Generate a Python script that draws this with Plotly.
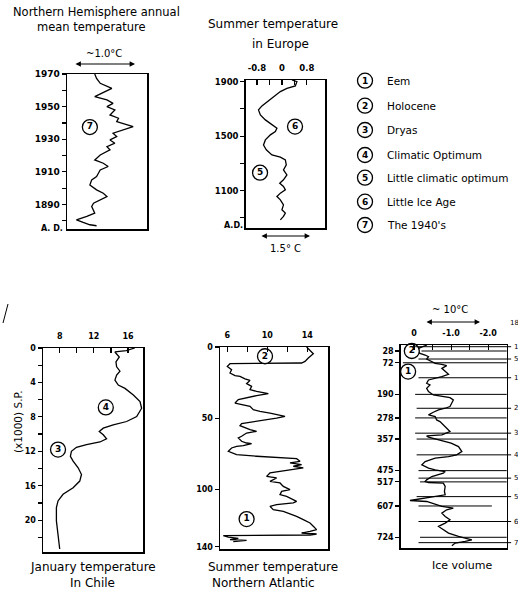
import plotly.graph_objects as go

W, H = 518, 590

# ---------------- data ----------------
# Northern Hemisphere annual mean temperature (anomaly, deg C)
nh_year = [1970, 1967.3, 1964.3, 1961.2, 1956.1, 1954.1, 1952.0, 1950.0, 1948.0, 1944.9,
           1942.9, 1940.8, 1937.8, 1935.7, 1933.7, 1931.6, 1929.6, 1927.6, 1925.5, 1923.5,
           1920.4, 1917.3, 1915.3, 1913.3, 1911.2, 1909.2, 1907.1, 1905.1, 1902.0, 1899.0,
           1896.9, 1894.9, 1892.9, 1890.8, 1888.8, 1884.7, 1882.7, 1880.6, 1879.0, 1877.6, 1877.0]
nh_anom = [-0.16, -0.13, -0.07, 0.12, -0.16, 0.04, 0.14, 0.04, 0.17, 0.09,
           0.23, 0.20, 0.47, 0.31, 0.14, 0.20, 0.09, 0.17, 0.04, 0.09,
           -0.07, -0.16, -0.02, 0.06, -0.07, -0.10, -0.13, -0.21, -0.24, -0.13,
           -0.02, 0.04, -0.07, -0.18, -0.21, -0.16, -0.29, -0.46, -0.35, -0.24, -0.13]

# Summer temperature in Europe (deg C)
eu_year = [1912, 1900, 1868, 1851, 1827, 1790, 1753, 1722, 1692, 1656, 1619, 1582, 1558, 1533,
           1509, 1472, 1435, 1399, 1362, 1345, 1325, 1289, 1252, 1215, 1179, 1154, 1130, 1105,
           1081, 1056, 1032, 995, 959, 934, 910, 885]
eu_temp = [0.32, 0.48, 0.43, 0.16, -0.05, -0.27, -0.48, -0.64, -0.75, -0.69, -0.53, -0.32,
           -0.16, -0.21, -0.37, -0.53, -0.59, -0.50, -0.32, -0.05, 0.11, 0.14, 0.05, 0.16,
           0.05, -0.07, 0.05, 0.11, -0.05, -0.16, -0.05, 0.05, 0.00, 0.11, 0.05, -0.05]

# January temperature in Chile (age in 1000 yr, deg C)
chile_age = [0, 0.3, 0.46, 1.04, 1.62, 2.19, 2.69, 3.15, 3.73, 4.31, 4.69, 5.46, 6.23, 7.0,
             7.96, 8.54, 8.92, 9.31, 9.69, 10.08, 10.54, 10.92, 11.23, 11.54, 12.0, 12.58,
             13.15, 13.92, 14.69, 15.46, 16.23, 17.0, 17.77, 18.54, 20.08, 21.6, 23.35]
chile_temp = [16.8, 15.8, 14.47, 14.98, 14.59, 14.67, 15.06, 14.67, 14.47, 14.86, 15.65,
              16.63, 17.41, 17.6, 17.02, 15.84, 14.27, 13.10, 12.63, 13.10, 13.49, 12.71,
              11.14, 9.96, 9.37, 9.25, 9.57, 10.16, 10.55, 10.35, 9.57, 8.39, 7.80, 7.61,
              7.61, 7.80, 8.0]

# Summer temperature Northern Atlantic (age in 1000 yr, deg C)
natl_age = [0, 4.7, 7.7, 10.1, 11.2, 11.7, 13.6, 15.9, 18.2, 20.1, 20.6, 22.4, 23.4, 25.7,
            27.6, 29.9, 31.1, 32.2, 32.7, 34.1, 35.7, 36.9, 39.3, 40.4, 41.6, 43.9, 45.1,
            46.3, 47.4, 48.6, 49.8, 50.9, 52.1, 52.8, 53.7, 55.1, 56.5, 57.9, 59.1, 60.3,
            62.6, 63.8, 66.1, 67.3, 67.8, 69.2, 69.6, 70.8, 73.1, 75.5, 76.6, 77.8, 78.3,
            80.1, 81.3, 82.5, 83.6, 84.8, 87.1, 88.3, 90.7, 91.8, 94.2, 95.3, 97.7, 100.0,
            101.2, 103.5, 104.7, 108.2, 109.3, 110.5, 111.7, 114.0, 115.2, 116.8, 118.7,
            121.0, 123.4, 125.7, 128.0, 129.2, 130.4, 131.1, 131.8, 132.2, 133.2, 134.1,
            135.0, 135.5, 136.4]
natl_temp = [13.93, 14.6, 14.1, 13.77, 13.43, 6.27, 6.0, 6.43, 6.27, 6.77, 7.27, 7.77, 8.27,
             7.93, 8.43, 8.27, 8.93, 9.6, 10.1, 8.93, 7.93, 7.1, 6.77, 7.43, 8.27, 8.6, 9.27,
             10.27, 10.93, 11.77, 10.93, 9.93, 8.93, 8.1, 7.43, 7.27, 7.77, 8.27, 8.93, 7.93,
             7.43, 7.1, 7.43, 7.93, 8.43, 7.6, 6.93, 6.43, 6.1, 6.93, 8.93, 11.27, 12.93,
             13.27, 12.27, 13.43, 12.6, 13.6, 11.27, 10.27, 9.93, 10.93, 10.27, 11.27, 11.6,
             12.27, 11.43, 11.27, 11.93, 12.93, 12.6, 10.93, 10.27, 10.6, 11.6, 12.27, 12.93,
             13.6, 14.27, 14.6, 14.93, 14.27, 13.43, 14.93, 14.27, 5.6, 6.1, 7.1, 6.27, 7.93,
             6.6]

# Ice volume (oxygen isotope, age in 1000 yr)
ice_age = [5.6, 12, 18.1, 28.0, 36.7, 43.0, 49.1, 57.9, 67.8, 74.0, 77.8, 82.7, 92.7, 102.6,
           115.1, 123.8, 130, 136.2, 148.7, 154.9, 167.3, 179.7, 192.2, 198.4, 202.1, 210.8,
           223.3, 235.7, 241.9, 248.1, 256.9, 266.8, 273.0, 285.5, 291.7, 310.3, 329.0, 341.4,
           343, 345, 350, 360, 372.5, 385, 403.6, 416.1, 422.3, 428.5, 441, 453.4, 465.8, 472,
           478.3, 484.5, 490.7, 496.9, 509.4, 515.6, 519.3, 521.8, 534.2, 552.9, 565.3, 571.5,
           577.8, 581.5, 586.5, 590.2, 596.4, 608.9, 615.1, 621.3, 633.7, 646.2, 658.6, 671.1,
           683.5, 695.9, 708.4, 720.8, 727, 733.2, 739.5, 745.7, 755.6]
ice_val = [-0.35, -0.2, -0.12, -0.10, -0.16, -0.30, -0.39, -0.34, -0.48, -0.57, -0.75, -0.88,
           -0.75, -0.84, -0.93, -0.75, -0.52, -0.39, -0.34, -0.43, -0.34, -0.39, -0.52, -0.75,
           -0.97, -1.06, -1.02, -0.97, -0.84, -0.66, -0.52, -0.39, -0.57, -0.61, -0.70, -0.84,
           -0.97, -0.75, -0.52, -0.34, -0.39, -0.70, -1.0, -1.20, -1.29, -1.15, -0.93, -0.57,
           -0.30, -0.21, -0.39, -0.57, -0.84, -0.79, -0.61, -0.48, -0.34, -0.30, -0.39, -0.79,
           -0.84, -0.82, -0.84, -0.57, -0.30, -0.03, 0.11, -0.34, -0.48, -0.75, -1.06, -0.88,
           -0.75, -0.84, -0.97, -0.84, -0.66, -0.79, -0.93, -1.20, -1.42, -1.56, -1.38, -1.11,
           -1.02]

# stage boundaries labelled on the left axis
stage_left_ages = [28, 72, 190, 278, 357, 475, 517, 607, 724]
stage_left_from = [-0.20, 0.30, -0.03, -0.03, -0.07, -0.12, -0.16, -0.12, -0.16]
stage_left_to = [-2.5, -2.5, -2.5, -2.5, -2.5, -2.5, -2.5, -2.1, -2.5]
# stage boundaries with (cut-off) labels on the right
stage_right_ages = [12, 58, 128, 242, 335, 416, 503, 572, 665, 744]
stage_right_from = [-0.03, -0.12, -0.12, -0.07, -0.03, -0.07, -0.12, -0.07, -0.12, -0.12]
stage_right_labels = ["1", "5", "1", "2", "3", "4", "5", "5", "6", "7"]

legend_nums = ["1", "2", "3", "4", "5", "6", "7"]
legend_names = ["Eem", "Holocene", "Dryas", "Climatic Optimum", "Little climatic optimum",
                "Little Ice Age", "The 1940's"]

# ---------------- helpers ----------------
def X(px):
    return px / W


def Y(py):
    return 1 - py / H


FONT = "DejaVu Sans"
LW = 1.3
fig = go.Figure()


def curve(x, y, ax):
    fig.add_trace(go.Scatter(x=x, y=y, mode="lines", xaxis="x" + ax, yaxis="y" + ax,
                             line=dict(color="black", width=LW), hoverinfo="skip",
                             showlegend=False))


def circ(x, y, ax, labels):
    fig.add_trace(go.Scatter(x=x, y=y, mode="markers+text", text=labels,
                             textposition="middle center", xaxis="x" + ax, yaxis="y" + ax,
                             marker=dict(symbol="circle", size=15, color="white",
                                         line=dict(color="black", width=1.3)),
                             textfont=dict(family=FONT, size=9, color="black", weight="bold"),
                             cliponaxis=False, hoverinfo="skip", showlegend=False))


curve(nh_anom, nh_year, "")
circ([-0.24], [1937.5], "", ["7"])

curve(eu_temp, eu_year, "2")
circ([0.42, -0.70], [1570, 1231], "2", ["6", "5"])

curve(chile_temp, chile_age, "3")
circ([13.4, 7.8], [6.9, 11.8], "3", ["4", "3"])

curve(natl_temp, natl_age, "4")
circ([9.77, 7.93], [6.5, 120.6], "4", ["2", "1"])

# stage lines on overlay axes of ice panel
sx, sy = [], []
for a, f, t in zip(stage_left_ages, stage_left_from, stage_left_to):
    sx += [f, t, None]
    sy += [a, a, None]
for a, f in zip(stage_right_ages, stage_right_from):
    sx += [f, -2.62, None]
    sy += [a, a, None]
fig.add_trace(go.Scatter(x=sx, y=sy, mode="lines", xaxis="x6", yaxis="y6",
                         line=dict(color="black", width=1.0), hoverinfo="skip",
                         showlegend=False))
curve(ice_val, ice_age, "5")
circ([0.06, 0.16], [28, 105], "5", ["2", "1"])


def box_axes(xdom, ydom, xr, yr, xt=None, yt=None, tf=9):
    tickfont = dict(family=FONT, size=tf, color="black", weight="bold")
    xa = dict(domain=[X(xdom[0]), X(xdom[1])], range=xr, side="top", showline=True,
              mirror=True, linecolor="black", linewidth=1.5, showgrid=False, zeroline=False,
              automargin=False, tickfont=tickfont, tickcolor="black", tickwidth=1.2,
              fixedrange=True)
    if xt:
        xa.update(tickmode="array", tickvals=xt[0], ticktext=xt[1], ticks="inside",
                  ticklen=5, ticklabelstandoff=4)
    else:
        xa.update(ticks="", showticklabels=False)
    ya = dict(domain=[Y(ydom[1]), Y(ydom[0])], range=yr, showline=True, mirror=True,
              linecolor="black", linewidth=1.5, showgrid=False, zeroline=False,
              automargin=False, tickfont=tickfont, tickcolor="black", tickwidth=1.2,
              tickmode="array", tickvals=yt[0], ticktext=yt[1], ticks="outside", ticklen=4,
              fixedrange=True)
    return xa, ya


xa1, ya1 = box_axes((67, 147), (74, 229), [-0.615, 0.697], [1875, 1970], None,
                    ([1970, 1960, 1950, 1940, 1930, 1920, 1910, 1900, 1890, 1880],
                     ["1970", "", "1950", "", "1930", "", "1910", "", "1890", ""]), 9)
xa2, ya2 = box_axes((245.7, 325), (80, 228), [-1.16, 1.38], [825, 1912],
                    ([-0.8, -0.4, 0, 0.4, 0.8], ["-0.8", "", "0", "", "0.8"]),
                    ([1900, 1700, 1500, 1300, 1100, 900], ["1900", "", "1500", "", "1100", ""]),
                    8.5)
xa3, ya3 = box_axes((43, 143), (348, 552), [6.04, 17.76], [23.7, 0],
                    ([8, 10, 12, 14, 16], ["8", "", "12", "", "16"]),
                    (list(range(0, 24, 2)),
                     ["0", "", "4", "", "8", "", "12", "", "16", "", "20", ""]), 8)
xa4, ya4 = box_axes((220, 328), (347, 549), [5.27, 16.07], [141.6, 0],
                    ([6, 8, 10, 12, 14], ["6", "", "10", "", "14"]),
                    ([0, 50, 100, 140], ["0", "50", "100", "140"]), 8)
xa5, ya5 = box_axes((400.7, 506.7), (345, 548), [0.36, -2.5], [764, 5.6],
                    ([0, -0.5, -1.0, -1.5, -2.0], ["0", "", "-1.0", "", "-2.0"]),
                    (stage_left_ages, [str(a) for a in stage_left_ages]), 8)

fig.update_layout(
    xaxis=dict(xa1, anchor="y"), yaxis=dict(ya1, anchor="x"),
    xaxis2=dict(xa2, anchor="y2"), yaxis2=dict(ya2, anchor="x2"),
    xaxis3=dict(xa3, anchor="y3"), yaxis3=dict(ya3, anchor="x3"),
    xaxis4=dict(xa4, anchor="y4"), yaxis4=dict(ya4, anchor="x4"),
    xaxis5=dict(xa5, anchor="y5"), yaxis5=dict(ya5, anchor="x5"),
    xaxis6=dict(domain=[X(400.7), X(512)], range=[0.36, -2.643], visible=False,
                anchor="y6", fixedrange=True),
    yaxis6=dict(domain=[Y(548), Y(345)], range=[764, 5.6], visible=False, anchor="x6",
                fixedrange=True),
)

ann = []


def text(px, py, s, size=11, xanchor="center", bold=False, angle=0):
    ann.append(dict(x=X(px), y=Y(py), xref="paper", yref="paper", text=s, showarrow=False,
                    xanchor=xanchor, yanchor="middle", textangle=angle,
                    font=dict(family=FONT, size=size, color="black",
                              weight="bold" if bold else "normal")))


def arrow(px0, px1, py):
    ann.append(dict(x=X(px1), y=Y(py), xref="paper", yref="paper", text="", showarrow=True,
                    ax=-(px1 - px0), ay=0, axref="pixel", ayref="pixel",
                    arrowside="end+start", arrowhead=2, arrowsize=0.9, arrowwidth=1.2,
                    arrowcolor="black"))


# titles
text(96, 12, "Northern Hemisphere annual", 11.5)
text(91, 27, "mean temperature", 11.5)
text(104, 53, "~1.0°C", 10)
arrow(74, 135, 64)
text(52, 228, "A. D.", 8, bold=True)

text(273, 24, "Summer temperature", 12)
text(280, 44, "in Europe", 12)
text(233, 226, "A.D.", 8, bold=True)
arrow(260, 310, 236)
text(285, 248, "1.5° C", 10)

text(93, 567, "January temperature", 12)
text(92, 583, "In Chile", 12)
text(18, 422, "(x1000) S.P.", 10.5, angle=-90)

text(273, 567, "Summer temperature", 12)
text(263, 583, "Northern Atlantic", 12)

text(462, 565, "Ice volume", 11)
text(450, 309, "~ 10°C", 10)
arrow(425, 480, 322)
text(508, 323, "18", 7, xanchor="left")

for a, lab in zip(stage_right_ages, stage_right_labels):
    ann.append(dict(x=X(512), y=a, xref="paper", yref="y6", text=lab, showarrow=False,
                    xanchor="left", yanchor="middle",
                    font=dict(family=FONT, size=7, color="black")))

# legend
shapes = []
leg_y = [80.7, 105.7, 130, 155, 177.7, 201.7, 225]
for n, name, py in zip(legend_nums, legend_names, leg_y):
    r = 7.5
    shapes.append(dict(type="circle", xref="paper", yref="paper", x0=X(365 - r), x1=X(365 + r),
                       y0=Y(py + r), y1=Y(py - r), line=dict(color="black", width=1.3)))
    text(365, py, n, 9, bold=True)
    text(385, py, name, 10.5, xanchor="left")

# scan mark at left
shapes.append(dict(type="line", xref="paper", yref="paper", x0=X(3), y0=Y(323), x1=X(8),
                   y1=Y(304), line=dict(color="black", width=1)))

fig.update_layout(annotations=ann, shapes=shapes, width=W, height=H,
                  margin=dict(l=0, r=0, t=0, b=0), template="none",
                  paper_bgcolor="white", plot_bgcolor="rgba(0,0,0,0)", showlegend=False)

fig.write_html("out.html", config={"displayModeBar": False, "staticPlot": True},
               post_script="document.body.style.margin='0';document.body.style.overflow='hidden';")
